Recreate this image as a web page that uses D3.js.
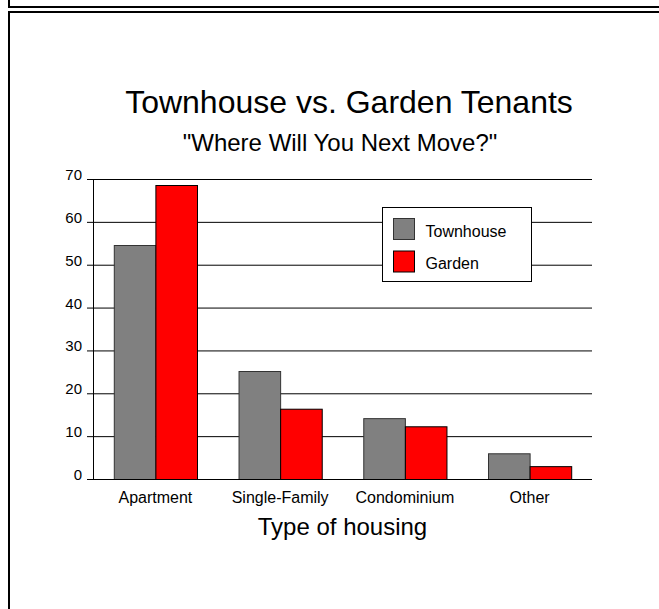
<!DOCTYPE html>
<html><head><meta charset="utf-8">
<script src="https://cdn.jsdelivr.net/npm/d3@7"></script>
<style>html,body{margin:0;padding:0;background:#fff;overflow:hidden;}svg{display:block;overflow:hidden;font-family:"Liberation Sans",Arial,sans-serif;}</style>
</head><body>
<svg id="chart" width="659" height="609"></svg>
<script>
const categories = ["Apartment", "Single-Family", "Condominium", "Other"];
const seriesNames = ["Townhouse", "Garden"];
const townhouse = [54.6, 25.2, 14.2, 6.0];
const garden = [68.6, 16.4, 12.3, 3.0];
const yTicks = [0, 10, 20, 30, 40, 50, 60, 70];
const colors = ["#808080", "#ff0000"];

(function () {
const svg = d3.select("#chart");
// outer frames (only the visible edges; they continue past the window)
svg.append("path").attr("d", "M9,-5V7H800").attr("fill", "none").attr("stroke", "#000").attr("stroke-width", 2);
svg.append("path").attr("d", "M800,12H9V800").attr("fill", "none").attr("stroke", "#000").attr("stroke-width", 2);

const pL = 93, pR = 592, pT = 179, pB = 479;
const x = d3.scaleBand().domain(categories).range([pL, pR]).paddingInner(0.333).paddingOuter(0.1667);
const xs = d3.scaleBand().domain(seriesNames).range([0, x.bandwidth()]);
const y = d3.scaleLinear().domain([0, 70]).range([pB, pT]);

// gridlines + ticks
const yAxis = d3.axisLeft(y).tickValues(yTicks).tickSize(-(pR - pL)).tickSizeOuter(0).tickFormat(d3.format("d"));
const ga = svg.append("g").attr("transform", `translate(${pL},0)`).call(yAxis);
ga.select(".domain").remove();
ga.selectAll(".tick line").attr("x1", -6).attr("stroke", "#000").attr("stroke-width", 1);
ga.selectAll(".tick text").attr("x", -11).attr("dy", "0.03em")
  .attr("font-size", 15).attr("font-family", "Liberation Sans, Arial, sans-serif").attr("fill", "#000");
svg.append("line").attr("x1", pL + 0.5).attr("x2", pL + 0.5).attr("y1", pT).attr("y2", pB).attr("stroke", "#000");

// bars
const data = categories.map((c, i) => ({cat: c, vals: [townhouse[i], garden[i]]}));
const groups = svg.append("g").selectAll("g").data(data).join("g")
  .attr("transform", d => `translate(${x(d.cat)},0)`);
groups.selectAll("rect").data(d => d.vals.map((v, j) => ({v, s: seriesNames[j], j}))).join("rect")
  .attr("x", d => xs(d.s) + 0.5).attr("width", xs.bandwidth())
  .attr("y", d => y(d.v) + 0.5).attr("height", d => y(0) - y(d.v))
  .attr("fill", d => colors[d.j]).attr("stroke", d => d.j === 0 ? "#333" : "#000").attr("stroke-width", 1);

// baseline
svg.append("line").attr("x1", pL - 6).attr("x2", pR).attr("y1", pB + 0.5).attr("y2", pB + 0.5).attr("stroke", "#000");

// x labels
const xAxis = d3.axisBottom(x).tickSize(0).tickPadding(12.5);
const gx = svg.append("g").attr("transform", `translate(0,${pB})`).call(xAxis);
gx.select(".domain").remove();
gx.selectAll(".tick text").attr("font-size", 16).attr("font-family", "Liberation Sans, Arial, sans-serif").attr("fill", "#000");

// titles
svg.append("text").attr("x", 349).attr("y", 113).attr("text-anchor", "middle").attr("font-size", 32).text("Townhouse vs. Garden Tenants");
svg.append("text").attr("x", 340).attr("y", 151).attr("text-anchor", "middle").attr("font-size", 24).text('"Where Will You Next Move?"');
svg.append("text").attr("x", 342.5).attr("y", 535).attr("text-anchor", "middle").attr("font-size", 24).text("Type of housing");

// legend
const lg = svg.append("g").attr("transform", "translate(382.5,207.5)");
lg.append("rect").attr("width", 149).attr("height", 74).attr("fill", "#fff").attr("stroke", "#000");
seriesNames.forEach((s, i) => {
  lg.append("rect").attr("x", 11).attr("y", 11 + i * 32.5).attr("width", 21).attr("height", 21)
    .attr("fill", colors[i]).attr("stroke", i === 0 ? "#333" : "#000");
  lg.append("text").attr("x", 43).attr("y", 29 + i * 32).attr("font-size", 16).text(s);
});
})();
</script>
</body></html>
